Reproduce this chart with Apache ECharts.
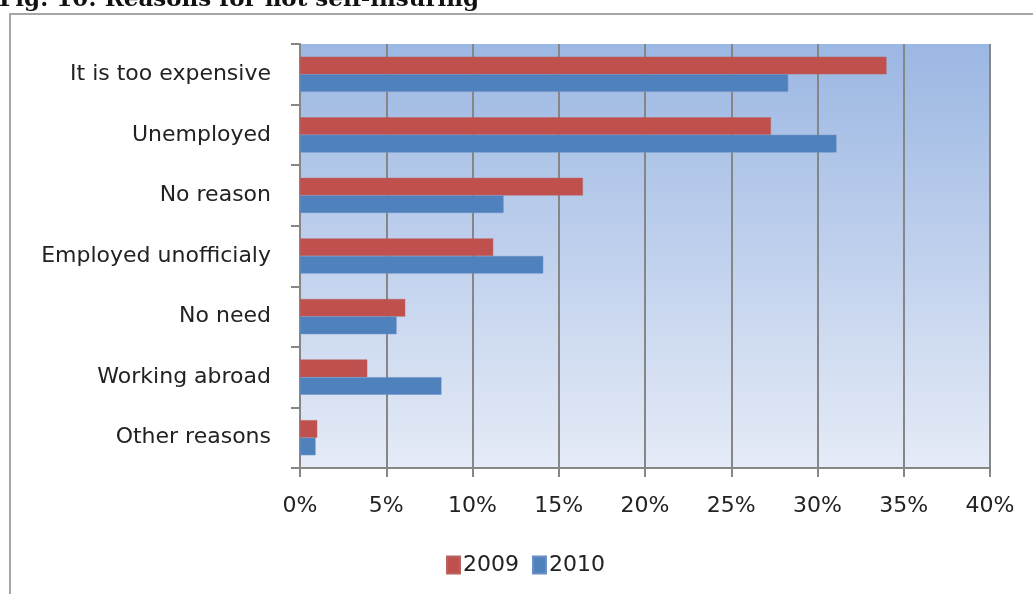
<!DOCTYPE html>
<html lang="en">
<head>
<meta charset="UTF-8">
<title>Reasons for not self-insuring</title>
<script src="https://cdn.jsdelivr.net/npm/echarts@6/dist/echarts.min.js"></script>
<style>
  html, body { margin: 0; padding: 0; background: #fff; }
  #main { width: 1033px; height: 594px; }
</style>
</head>
<body>
<div id="main"></div>
<script>
  // categories, top to bottom
  var reasons = ['It is too expensive', 'Unemployed', 'No reason', 'Employed unofficialy',
                 'No need', 'Working abroad', 'Other reasons'];
  // percent values
  var values2009 = [34.0, 27.3, 16.4, 11.2, 6.1, 3.9, 1.0];
  var values2010 = [28.3, 31.1, 11.8, 14.1, 5.6, 8.2, 0.9];
  var xTicks = [0, 5, 10, 15, 20, 25, 30, 35, 40];

  var chart = echarts.init(document.getElementById('main'));

  var option = {
    animation: false,
    graphic: [
      // outer chart frame, runs off the right and bottom edge
      { type: 'rect', z: -10, shape: { x: 10, y: 14, width: 1040, height: 600 },
        style: { fill: '#fff', stroke: '#a6a6a6', lineWidth: 2 } },
      // caption, cut off at the top
      { type: 'text', left: -1, top: -11,
        style: { text: 'Fig. 10: Reasons for not self-insuring', fill: '#111',
                 font: 'bold 23px "DejaVu Serif"' } }
    ],
    legend: {
      data: ['2009', '2010'],
      top: 549,
      left: 441,
      itemWidth: 13,
      itemHeight: 17,
      itemGap: 13,
      icon: 'rect',
      textStyle: { fontFamily: 'DejaVu Sans', fontSize: 22, color: '#222', padding: [0, 0, 0, -2] }
    },
    grid: {
      left: 300, right: 43, top: 44, bottom: 126,
      show: true,
      borderWidth: 0,
      backgroundColor: new echarts.graphic.LinearGradient(0, 0, 0, 1, [
        { offset: 0, color: '#9bb7e3' },
        { offset: 1, color: '#e5ebf7' }
      ])
    },
    xAxis: {
      type: 'value',
      min: 0, max: 40, interval: 5,
      axisLine: { show: true, lineStyle: { color: '#868686', width: 2 } },
      axisTick: { show: true, length: 9, lineStyle: { color: '#868686', width: 2 } },
      splitLine: { show: true, lineStyle: { color: '#868686', width: 2 } },
      axisLabel: {
        margin: 27,
        fontFamily: 'DejaVu Sans', fontSize: 22, color: '#222',
        formatter: function (v) { return xTicks.indexOf(v) >= 0 ? v + '%' : ''; }
      }
    },
    yAxis: {
      type: 'category',
      data: reasons,
      inverse: true,
      axisLine: { show: true, lineStyle: { color: '#868686', width: 2 } },
      axisTick: { show: true, length: 9, lineStyle: { color: '#868686', width: 2 } },
      axisLabel: { margin: 29, fontFamily: 'DejaVu Sans', fontSize: 22, color: '#222' }
    },
    series: [
      {
        name: '2009', type: 'bar', data: values2009,
        barGap: '0%', barCategoryGap: '42%',
        itemStyle: { color: '#c0504d', borderColor: '#b4635f', borderWidth: 0.5 }
      },
      {
        name: '2010', type: 'bar', data: values2010,
        barGap: '0%', barCategoryGap: '42%',
        itemStyle: { color: '#4f81bd', borderColor: '#6b8fc4', borderWidth: 0.5 }
      }
    ]
  };

  chart.setOption(option);
</script>
</body>
</html>
